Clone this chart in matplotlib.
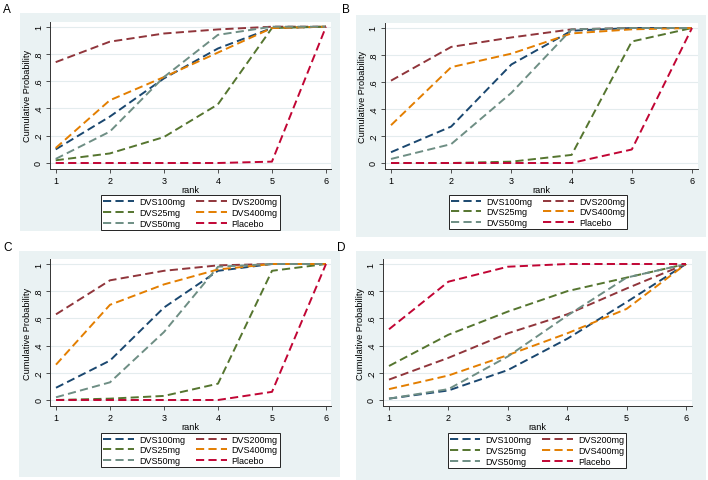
import matplotlib
matplotlib.use("Agg")
import matplotlib.pyplot as plt
from matplotlib.patches import Rectangle

W, H = 708, 481

ranks = [1, 2, 3, 4, 5, 6]
treatments = ["DVS100mg", "DVS200mg", "DVS25mg", "DVS400mg", "DVS50mg", "Placebo"]
colors = ["#1a476f", "#90353b", "#55752f", "#e37e00", "#6e8e84", "#c10534"]

# cumulative probabilities, one list per treatment (same order as treatments)
panel_a = [
    [0.10, 0.34, 0.62, 0.84, 0.99, 1.0],
    [0.74, 0.89, 0.95, 0.98, 1.00, 1.0],
    [0.02, 0.07, 0.19, 0.43, 0.99, 1.0],
    [0.11, 0.46, 0.63, 0.81, 0.99, 1.0],
    [0.03, 0.23, 0.63, 0.94, 1.00, 1.0],
    [0.00, 0.00, 0.00, 0.00, 0.01, 1.0],
]
panel_b = [
    [0.08, 0.27, 0.73, 0.98, 1.00, 1.0],
    [0.61, 0.86, 0.93, 0.99, 1.00, 1.0],
    [0.00, 0.00, 0.01, 0.06, 0.90, 1.0],
    [0.28, 0.71, 0.81, 0.96, 0.99, 1.0],
    [0.03, 0.14, 0.52, 0.99, 1.00, 1.0],
    [0.00, 0.00, 0.00, 0.00, 0.10, 1.0],
]
panel_c = [
    [0.09, 0.29, 0.68, 0.95, 1.00, 1.0],
    [0.63, 0.88, 0.95, 0.99, 1.00, 1.0],
    [0.00, 0.01, 0.03, 0.12, 0.95, 1.0],
    [0.26, 0.70, 0.85, 0.96, 1.00, 1.0],
    [0.02, 0.13, 0.50, 0.98, 1.00, 1.0],
    [0.00, 0.00, 0.00, 0.00, 0.06, 1.0],
]
panel_d = [
    [0.01, 0.07, 0.22, 0.45, 0.72, 1.0],
    [0.15, 0.31, 0.49, 0.63, 0.82, 1.0],
    [0.25, 0.48, 0.65, 0.80, 0.90, 1.0],
    [0.08, 0.18, 0.33, 0.49, 0.67, 1.0],
    [0.01, 0.08, 0.32, 0.62, 0.90, 1.0],
    [0.52, 0.87, 0.98, 1.00, 1.00, 1.0],
]
yticks = [0, 0.2, 0.4, 0.6, 0.8, 1.0]
ytick_labels = ["0", ".2", ".4", ".6", ".8", "1"]

XLIM = (0.895, 6.1)
YLIM = (-0.044, 1.036)

# panel layout in pixels: label, data, bg box (l,t,r,b), x=1 px, x=6 px, y=1 px, y=0 px, legend box (l,t,r,b), label pos
panels = [
    ("A", panel_a, (20, 14, 340, 232), 55.7, 326, 27.7, 164, (103, 196, 278, 231), (3, 13)),
    ("B", panel_b, (356, 16, 706, 238), 391, 692, 29, 164, (443, 195, 633, 231), (342, 13)),
    ("C", panel_c, (19, 252, 340, 478), 56, 326, 265, 401, (103, 432, 278, 470), (3, 251)),
    ("D", panel_d, (356, 252, 706, 481), 389, 686, 265, 401, (441, 433, 633, 470), (337, 251)),
]

plt.rcParams['font.family'] = ['Liberation Sans', 'DejaVu Sans']
fig = plt.figure(figsize=(W / 100, H / 100), dpi=100)
fig.patch.set_facecolor("white")

for lab, data, bg, x1, x6, y1, y0, lg, lpos in panels:
    fig.patches.append(Rectangle((bg[0] / W, 1 - bg[3] / H), (bg[2] - bg[0]) / W, (bg[3] - bg[1]) / H,
                                 transform=fig.transFigure, facecolor="#eaf2f3", edgecolor="none", zorder=-5))
    ux = (x6 - x1) / 5
    uy = (y0 - y1)
    left = x1 - (1 - XLIM[0]) * ux
    right = x6 + (XLIM[1] - 6) * ux
    top = y1 - (YLIM[1] - 1) * uy
    bottom = y0 + (0 - YLIM[0]) * uy
    ax = fig.add_axes([left / W, 1 - bottom / H, (right - left) / W, (bottom - top) / H])
    ax.set_facecolor("white")
    for name, vals, c in zip(treatments, data, colors):
        ax.plot(ranks, vals, color=c, lw=1.4, linestyle=(0, (4.2, 2.2)), label=name)
    ax.set_xlim(*XLIM)
    ax.set_ylim(*YLIM)
    ax.set_xticks(ranks)
    ax.set_yticks(yticks)
    ax.set_yticklabels(ytick_labels, rotation=90, va="center")
    ax.tick_params(labelsize=6.5, length=3, width=0.6, color="#333333", pad=2)
    for s in ["top", "right"]:
        ax.spines[s].set_visible(False)
    for s in ["left", "bottom"]:
        ax.spines[s].set_color("#333333")
        ax.spines[s].set_linewidth(0.7)
    ax.grid(axis="y", color="#e4ecee", lw=0.8)
    ax.set_axisbelow(True)
    ax.set_xlabel("rank", fontsize=6.6, labelpad=0)
    ax.set_ylabel("Cumulative Probability", fontsize=6.6, labelpad=1.5)

    handles, labels = ax.get_legend_handles_labels()
    order = [0, 2, 4, 1, 3, 5]
    leg = fig.legend([handles[i] for i in order], [labels[i] for i in order], ncol=2,
                     loc="center", bbox_to_anchor=(((lg[0] + lg[2]) / 2) / W, 1 - ((lg[1] + lg[3]) / 2) / H),
                     fontsize=6.5, frameon=True, fancybox=False, handlelength=3.4, handletextpad=0.55,
                     columnspacing=1.2, labelspacing=0.2, borderpad=0.2)
    leg.get_frame().set_edgecolor("#222222")
    leg.get_frame().set_linewidth(0.7)
    leg.get_frame().set_alpha(1)

    fig.text(lpos[0] / W, 1 - lpos[1] / H, lab, fontsize=8.5, ha="left", va="baseline")

fig.savefig("out.png", dpi=100)
